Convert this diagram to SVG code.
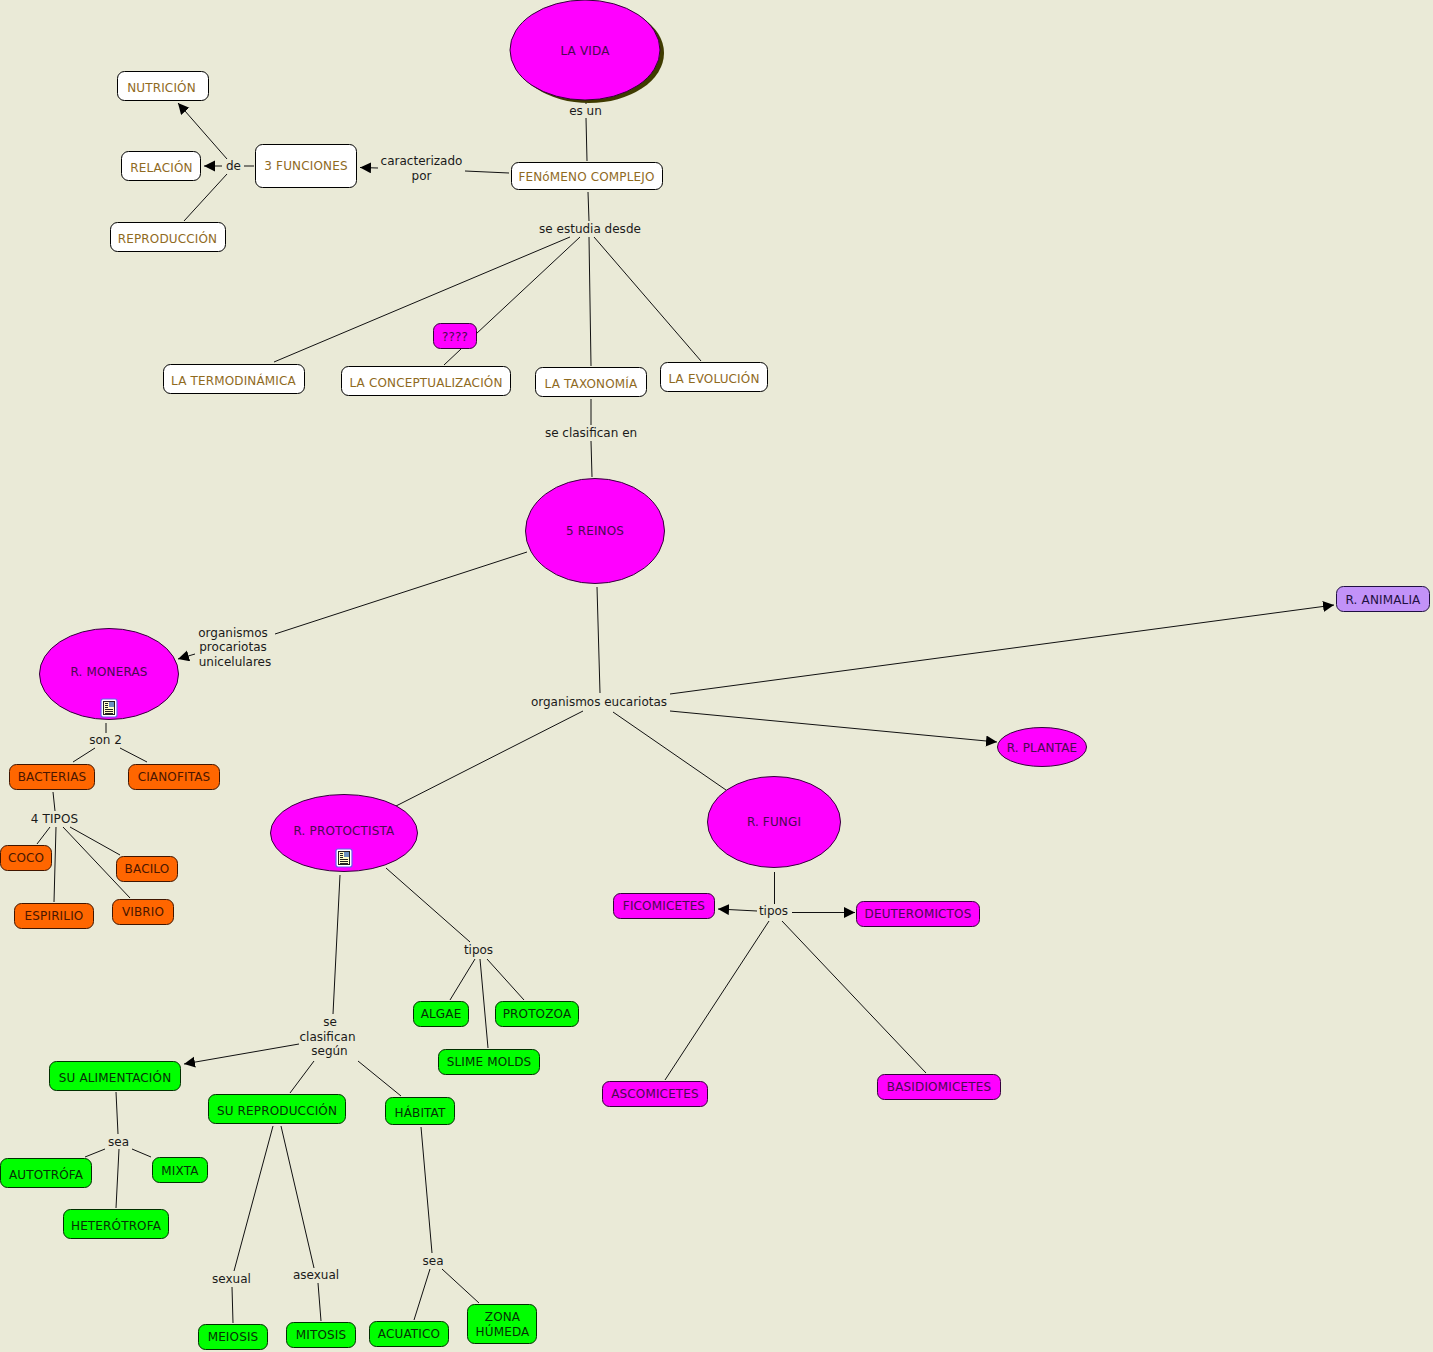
<svg xmlns="http://www.w3.org/2000/svg" width="1433" height="1352" viewBox="0 0 1433 1352">
<style>
text{font-family:"DejaVu Sans",Verdana,sans-serif;font-size:12px;text-anchor:middle;dominant-baseline:central}
g[class] text{letter-spacing:.15px}
.l{fill:#1a1a1a}
.w rect{fill:#fff;stroke:#000}.w text{fill:#8f6a1e}
.m rect,.m ellipse{fill:#ff00ff;stroke:#33003a}.m text{fill:#4a0a50}
.o rect{fill:#ff6600;stroke:#401500}.o text{fill:#4a1600}
.g rect{fill:#00ff00;stroke:#003000}.g text{fill:#063006}
.p rect{fill:#c292f8;stroke:#201040}.p text{fill:#1f1040}
#c line{stroke:#111;stroke-width:1}
</style>
<defs>
<marker id="a" markerUnits="userSpaceOnUse" markerWidth="12" markerHeight="12" refX="11" refY="5.5" orient="auto"><path d="M0 0L11 5.500L0 11z" fill="#000"/></marker>
<g id="doc"><rect x="-8" y="-9" width="16" height="18" rx="2" fill="#fff" stroke="#6a5af0" stroke-width="1.2"/><rect x="-5.500" y="-6.500" width="11" height="13" fill="#ffffc8" stroke="#222"/><rect x="0" y="-6" width="5" height="5" fill="#6a90c0"/><path d="M-4-4.500H-1M-4-2.500H-1M-4-.5H-1M-4 1.500H4M-4 3.500H4M-4 5.500H4" stroke="#222" fill="none"/></g>
</defs>
<rect width="1433" height="1352" fill="#eaead7"/>
<g id="c">
<line x1="586" y1="104" x2="586" y2="102"/>
<line x1="586" y1="118" x2="587" y2="161"/>
<line x1="509" y1="173" x2="465" y2="171"/>
<line x1="378" y1="168" x2="360" y2="167.500" marker-end="url(#a)"/>
<line x1="254" y1="166" x2="244" y2="166"/>
<line x1="222" y1="166" x2="204" y2="166" marker-end="url(#a)"/>
<line x1="227" y1="159" x2="178" y2="103" marker-end="url(#a)"/>
<line x1="227" y1="174" x2="184" y2="221"/>
<line x1="588" y1="192" x2="589" y2="221"/>
<line x1="570" y1="237" x2="274" y2="362"/>
<line x1="580" y1="237" x2="476" y2="334"/>
<line x1="461" y1="349" x2="444" y2="365"/>
<line x1="589" y1="237" x2="591" y2="366"/>
<line x1="594" y1="237" x2="701" y2="361"/>
<line x1="591" y1="399" x2="591" y2="425"/>
<line x1="591" y1="441" x2="592" y2="477"/>
<line x1="527" y1="552" x2="275" y2="634"/>
<line x1="195" y1="654" x2="178" y2="659" marker-end="url(#a)"/>
<line x1="597" y1="587" x2="600" y2="693"/>
<line x1="670" y1="694" x2="1334" y2="605" marker-end="url(#a)"/>
<line x1="670" y1="711" x2="997" y2="742" marker-end="url(#a)"/>
<line x1="613" y1="712" x2="726" y2="790"/>
<line x1="583" y1="711" x2="396" y2="806"/>
<line x1="106" y1="723" x2="106" y2="733"/>
<line x1="95" y1="748" x2="73" y2="762"/>
<line x1="120" y1="748" x2="147" y2="762"/>
<line x1="53" y1="792" x2="55" y2="811"/>
<line x1="50" y1="827" x2="37" y2="844"/>
<line x1="56" y1="827" x2="54" y2="902"/>
<line x1="63" y1="827" x2="130" y2="898"/>
<line x1="70" y1="827" x2="120" y2="855"/>
<line x1="340" y1="875" x2="333" y2="1014"/>
<line x1="386" y1="868" x2="470" y2="942"/>
<line x1="475" y1="959" x2="450" y2="1000"/>
<line x1="480" y1="959" x2="488" y2="1048"/>
<line x1="487" y1="959" x2="524" y2="1000"/>
<line x1="299" y1="1044" x2="184" y2="1064" marker-end="url(#a)"/>
<line x1="314" y1="1061" x2="290" y2="1093"/>
<line x1="358" y1="1061" x2="401" y2="1096"/>
<line x1="116" y1="1092" x2="118" y2="1134"/>
<line x1="105" y1="1149" x2="85" y2="1157"/>
<line x1="132" y1="1149" x2="151" y2="1157"/>
<line x1="119" y1="1149" x2="116" y2="1208"/>
<line x1="273" y1="1126" x2="234" y2="1271"/>
<line x1="281" y1="1126" x2="314" y2="1268"/>
<line x1="232" y1="1287" x2="233" y2="1323"/>
<line x1="318" y1="1283" x2="321" y2="1321"/>
<line x1="421" y1="1127" x2="432" y2="1253"/>
<line x1="430" y1="1269" x2="414" y2="1320"/>
<line x1="442" y1="1269" x2="479" y2="1303"/>
<line x1="774.500" y1="872" x2="774.500" y2="904"/>
<line x1="757" y1="911" x2="718" y2="909" marker-end="url(#a)"/>
<line x1="792" y1="912.500" x2="855" y2="912.500" marker-end="url(#a)"/>
<line x1="769" y1="921" x2="665" y2="1080"/>
<line x1="782" y1="921" x2="926" y2="1073"/>
</g>
<g id="labels">
<text class="l" x="585.500" y="110.500">es un</text>
<text class="l" x="421.500" y="161">caracterizado</text><text class="l" x="421.500" y="175.500">por</text>
<text class="l" x="233.500" y="166">de</text>
<text class="l" x="590" y="229">se estudia desde</text>
<text class="l" x="591" y="433">se clasifican en</text>
<text class="l" x="233" y="633">organismos</text><text class="l" x="233" y="647">procariotas</text><text class="l" x="235" y="662">unicelulares</text>
<text class="l" x="599" y="702">organismos eucariotas</text>
<text class="l" x="105.500" y="740">son 2</text>
<text class="l" x="54.500" y="818.500" style="letter-spacing:.15px">4 TIPOS</text>
<text class="l" x="478.500" y="950">tipos</text>
<text class="l" x="330" y="1022">se</text><text class="l" x="327.500" y="1036.500">clasifican</text><text class="l" x="329.500" y="1051">según</text>
<text class="l" x="118.500" y="1142">sea</text>
<text class="l" x="231.500" y="1279">sexual</text>
<text class="l" x="316" y="1275">asexual</text>
<text class="l" x="433" y="1261">sea</text>
<text class="l" x="773.500" y="911">tipos</text>
</g>
<g id="la-vida" class="m"><ellipse cx="589" cy="53" rx="75" ry="50" style="fill:#3f3b00;stroke:none"/><ellipse cx="585" cy="50" rx="75" ry="50"/><text x="585" y="50.500">LA VIDA</text></g>
<g id="nutricion" class="w"><rect x="117.500" y="71.500" width="91" height="29" rx="7"/><text x="161.500" y="87.500">NUTRICIÓN</text></g>
<g id="relacion" class="w"><rect x="121.500" y="151.500" width="79" height="29" rx="7"/><text x="161.500" y="167.500">RELACIÓN</text></g>
<g id="reproduccion" class="w"><rect x="110.500" y="222.500" width="115" height="29" rx="7"/><text x="167.500" y="238.500">REPRODUCCIÓN</text></g>
<g id="funciones" class="w"><rect x="255.500" y="144.500" width="101" height="43" rx="7"/><text x="306" y="166">3 FUNCIONES</text></g>
<g id="fenomeno" class="w"><rect x="511.500" y="162.500" width="151" height="27" rx="7"/><text x="586.500" y="176.500">FENóMENO COMPLEJO</text></g>
<g id="interrogantes" class="m"><rect x="433.500" y="323.500" width="43" height="25" rx="7"/><text x="455" y="336.500">????</text></g>
<g id="termodinamica" class="w"><rect x="163.500" y="364.500" width="141" height="29" rx="7"/><text x="233.500" y="380.500">LA TERMODINÁMICA</text></g>
<g id="conceptualizacion" class="w"><rect x="341.500" y="366.500" width="169" height="29" rx="7"/><text x="426" y="382.500">LA CONCEPTUALIZACIÓN</text></g>
<g id="taxonomia" class="w"><rect x="535.500" y="367.500" width="111" height="29" rx="7"/><text x="591" y="383.500">LA TAXONOMÍA</text></g>
<g id="evolucion" class="w"><rect x="660.500" y="362.500" width="107" height="29" rx="7"/><text x="714" y="378.500">LA EVOLUCIÓN</text></g>
<g id="reinos" class="m"><ellipse cx="595" cy="531" rx="69.500" ry="52.500"/><text x="595" y="531">5 REINOS</text></g>
<g id="animalia" class="p"><rect x="1336.500" y="586.500" width="93" height="25" rx="7"/><text x="1383" y="599.500">R. ANIMALIA</text></g>
<g id="moneras" class="m"><ellipse cx="109" cy="674" rx="69.500" ry="45.500"/><text x="109" y="672">R. MONERAS</text><use href="#doc" x="109" y="708"/></g>
<g id="plantae" class="m"><ellipse cx="1042" cy="747" rx="44.500" ry="19.500"/><text x="1042" y="747.500">R. PLANTAE</text></g>
<g id="protoctista" class="m"><ellipse cx="344" cy="833" rx="73.500" ry="38.500"/><text x="344" y="830.500">R. PROTOCTISTA</text><use href="#doc" x="344" y="858"/></g>
<g id="fungi" class="m"><ellipse cx="774" cy="822" rx="66.500" ry="45.500"/><text x="774" y="822">R. FUNGI</text></g>
<g id="bacterias" class="o"><rect x="9.500" y="764.500" width="85" height="25" rx="7"/><text x="52" y="776.500">BACTERIAS</text></g>
<g id="cianofitas" class="o"><rect x="128.500" y="764.500" width="91" height="25" rx="7"/><text x="174" y="776.500">CIANOFITAS</text></g>
<g id="coco" class="o"><rect x="0.500" y="845.500" width="51" height="25" rx="7"/><text x="26" y="857.500">COCO</text></g>
<g id="bacilo" class="o"><rect x="116.500" y="856.500" width="61" height="25" rx="7"/><text x="147" y="868.500">BACILO</text></g>
<g id="espirilio" class="o"><rect x="14.500" y="903.500" width="79" height="25" rx="7"/><text x="54" y="915.500">ESPIRILIO</text></g>
<g id="vibrio" class="o"><rect x="112.500" y="899.500" width="61" height="25" rx="7"/><text x="143" y="911.500">VIBRIO</text></g>
<g id="ficomicetes" class="m"><rect x="613.500" y="893.500" width="101" height="25" rx="7"/><text x="664" y="905.500">FICOMICETES</text></g>
<g id="deuteromictos" class="m"><rect x="856.500" y="901.500" width="123" height="25" rx="7"/><text x="918" y="913.500">DEUTEROMICTOS</text></g>
<g id="ascomicetes" class="m"><rect x="602.500" y="1081.500" width="105" height="25" rx="7"/><text x="655" y="1093.500">ASCOMICETES</text></g>
<g id="basidiomicetes" class="m"><rect x="877.500" y="1074.500" width="123" height="25" rx="7"/><text x="939" y="1086.500">BASIDIOMICETES</text></g>
<g id="algae" class="g"><rect x="413.500" y="1001.500" width="55" height="25" rx="7"/><text x="441" y="1013.500">ALGAE</text></g>
<g id="protozoa" class="g"><rect x="495.500" y="1001.500" width="83" height="25" rx="7"/><text x="537" y="1013.500">PROTOZOA</text></g>
<g id="slime" class="g"><rect x="438.500" y="1049.500" width="101" height="25" rx="7"/><text x="489" y="1061.500">SLIME MOLDS</text></g>
<g id="alimentacion" class="g"><rect x="49.500" y="1061.500" width="131" height="29" rx="7"/><text x="115" y="1077.500">SU ALIMENTACIÓN</text></g>
<g id="su-reproduccion" class="g"><rect x="208.500" y="1094.500" width="137" height="29" rx="7"/><text x="277" y="1110.500">SU REPRODUCCIÓN</text></g>
<g id="habitat" class="g"><rect x="385.500" y="1097.500" width="69" height="27" rx="7"/><text x="420" y="1112.500">HÁBITAT</text></g>
<g id="autotrofa" class="g"><rect x="0.500" y="1158.500" width="91" height="29" rx="7"/><text x="46" y="1174.500">AUTOTRÓFA</text></g>
<g id="mixta" class="g"><rect x="152.500" y="1157.500" width="55" height="25" rx="7"/><text x="180" y="1170.500">MIXTA</text></g>
<g id="heterotrofa" class="g"><rect x="63.500" y="1209.500" width="105" height="29" rx="7"/><text x="116" y="1225.500">HETERÓTROFA</text></g>
<g id="meiosis" class="g"><rect x="198.500" y="1324.500" width="69" height="25" rx="7"/><text x="233" y="1336.500">MEIOSIS</text></g>
<g id="mitosis" class="g"><rect x="286.500" y="1322.500" width="69" height="25" rx="7"/><text x="321" y="1334.500">MITOSIS</text></g>
<g id="acuatico" class="g"><rect x="369.500" y="1321.500" width="79" height="25" rx="7"/><text x="409" y="1333.500">ACUATICO</text></g>
<g id="zona" class="g"><rect x="467.500" y="1304.500" width="69" height="39" rx="7"/><text x="502.500" y="1317">ZONA</text><text x="502.500" y="1331.500">HÚMEDA</text></g>
</svg>
